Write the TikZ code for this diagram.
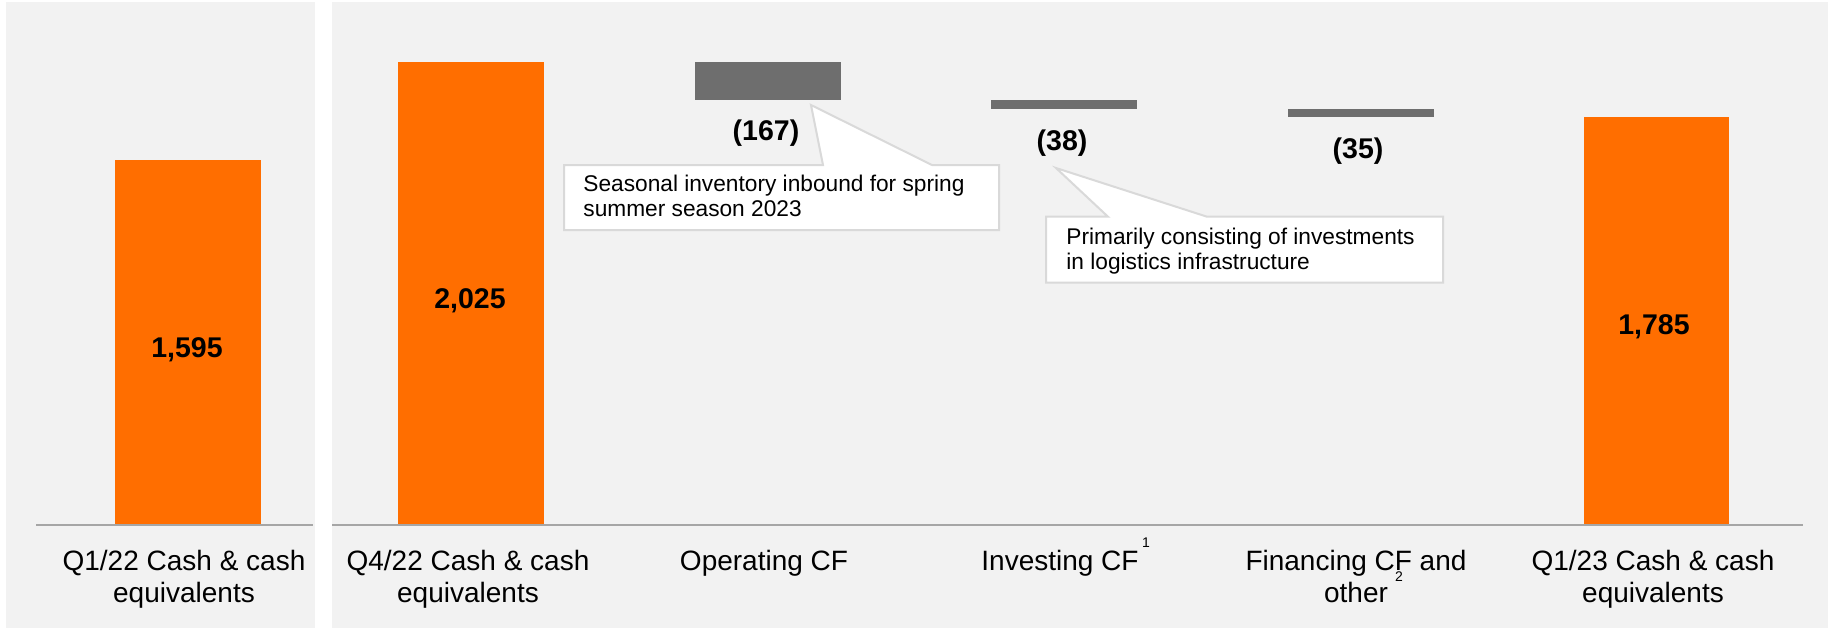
\documentclass[tikz,border=0pt]{standalone}
\usepackage{fontspec}
\setmainfont{Liberation Sans}
\definecolor{bgc}{HTML}{F2F2F2}
\definecolor{orng}{HTML}{FF6E00}
\definecolor{bargrey}{HTML}{6E6E6E}
\definecolor{axisgrey}{HTML}{A6A6A6}
\definecolor{callborder}{HTML}{D9D9D9}
\begin{document}
\begin{tikzpicture}[x=0.5pt,y=-0.5pt,
  catlabel/.style={font=\fontsize{14}{16}\selectfont, align=center, anchor=base, inner sep=0pt},
  valuelabel/.style={font=\bfseries\fontsize{14.25}{16}\selectfont, anchor=base, inner sep=0pt},
  calltext/.style={font=\fontsize{11.35}{12.4}\selectfont, align=left, anchor=base west, inner sep=0pt},
  callout/.style={fill=white, draw=callborder, line width=1pt},
  supnum/.style={font=\fontsize{7}{8}\selectfont, inner sep=0pt, anchor=base},
  cashbar/.style={fill=orng},
  flowbar/.style={fill=bargrey},
  axis/.style={draw=axisgrey, line width=1pt},
]
\useasboundingbox (0,0) rectangle (1828,628);
\fill[white] (0,0) rectangle (1828,628);
\fill[bgc] (6,2) rectangle (315,628);
\fill[bgc] (332,2) rectangle (1828,628);
% bars
\fill[cashbar] (115,525) rectangle (261,160.4);
\fill[cashbar] (398,525) rectangle (544,62);
\fill[flowbar] (695,62) rectangle (841,100.2);
\fill[flowbar] (991,100.2) rectangle (1137,108.9);
\fill[flowbar] (1288,108.9) rectangle (1434,116.9);
\fill[cashbar] (1584,525) rectangle (1729,116.9);
% axes
\draw[axis] (36,525) -- (313,525);
\draw[axis] (332,525) -- (1803,525);
% value labels
\node[valuelabel] (v1) at (187,357) {1,595};
\node[valuelabel] (v2) at (470,308) {2,025};
\node[valuelabel] (v3) at (766,140) {(167)};
\node[valuelabel] (v4) at (1062,150) {(38)};
\node[valuelabel] (v5) at (1358,158) {(35)};
\node[valuelabel] (v6) at (1654,334) {1,785};
% category labels (base anchor = baseline of last line)
\node[catlabel] (c1) at (184,602) {Q1/22 Cash \& cash\\equivalents};
\node[catlabel] (c2) at (468,602) {Q4/22 Cash \& cash\\equivalents};
\node[catlabel] (c3) at (764,570) {Operating CF};
\node[catlabel] (c4) at (1060,570) {Investing CF};
\node[catlabel] (c5) at (1356,602) {Financing CF and\\other};
\node[catlabel] (c6) at (1653,602) {Q1/23 Cash \& cash\\equivalents};
\node[supnum] (s1) at (1146,547) {1};
\node[supnum] (s2) at (1399,581) {2};
% callout 1
\draw[callout] (564,165) -- (823,165) -- (811,105) -- (932,165) -- (999,165) -- (999,230) -- (564,230) -- cycle;
\node[calltext] (t1) at (583,216) {Seasonal inventory inbound for spring\\summer season 2023};
% callout 2
\draw[callout] (1046,216.7) -- (1108,216.7) -- (1056,168) -- (1207,216.7) -- (1443,216.7) -- (1443,282.7) -- (1046,282.7) -- cycle;
\node[calltext] (t2) at (1066,269) {Primarily consisting of investments\\in logistics infrastructure};
\end{tikzpicture}
\end{document}
